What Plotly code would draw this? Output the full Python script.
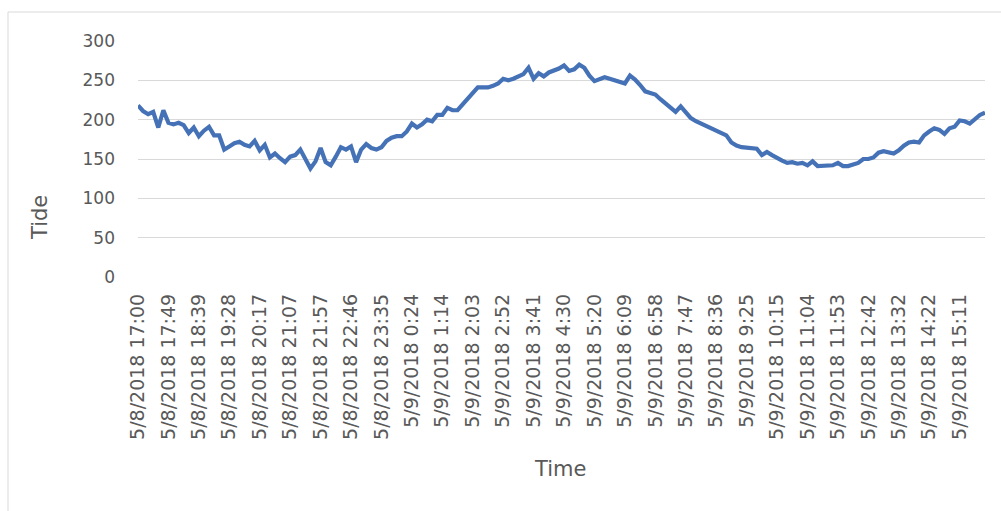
import plotly.graph_objects as go

# Category labels shown along the time axis (one every 6 readings)
tick_labels = [
    "5/8/2018 17:00", "5/8/2018 17:49", "5/8/2018 18:39", "5/8/2018 19:28",
    "5/8/2018 20:17", "5/8/2018 21:07", "5/8/2018 21:57", "5/8/2018 22:46",
    "5/8/2018 23:35", "5/9/2018 0:24", "5/9/2018 1:14", "5/9/2018 2:03",
    "5/9/2018 2:52", "5/9/2018 3:41", "5/9/2018 4:30", "5/9/2018 5:20",
    "5/9/2018 6:09", "5/9/2018 6:58", "5/9/2018 7:47", "5/9/2018 8:36",
    "5/9/2018 9:25", "5/9/2018 10:15", "5/9/2018 11:04", "5/9/2018 11:53",
    "5/9/2018 12:42", "5/9/2018 13:32", "5/9/2018 14:22", "5/9/2018 15:11",
]
readings_per_label = 6

# Tide readings
tide = [
    218, 211, 207, 210, 190, 212, 196, 194, 196, 193,
    183, 190, 179, 186, 191, 180, 180, 162, 166, 170,
    172, 168, 166, 173, 161, 168, 152, 157, 151, 146,
    153, 155, 162, 151, 138, 147, 164, 146, 142, 153,
    165, 162, 166, 146, 162, 169, 164, 162, 165, 173,
    177, 179, 179, 185, 195, 190, 194, 200, 198, 206,
    206, 215, 212, 212, 219, 227, 234, 241, 241, 241,
    243, 246, 252, 250, 252, 255, 258, 266, 252, 259,
    255, 260, 262, 265, 269, 262, 264, 270, 266, 256,
    249, 251, 254, 252, 250, 248, 246, 256, 251, 244,
    236, 234, 232, 226, 221, 216, 210, 217, 209, 202,
    198, 195, 191, 188, 185, 182, 180, 171, 167, 165,
    164, 163, 163, 155, 159, 155, 151, 148, 145, 146,
    144, 145, 142, 147, 141, 141, 141, 142, 145, 141,
    141, 143, 145, 150, 150, 152, 158, 160, 159, 157,
    161, 167, 171, 172, 171, 180, 185, 189, 187, 182,
    189, 191, 199, 198, 195, 201, 206, 209,
]

x_index = list(range(len(tide)))
tick_positions = [k * readings_per_label for k in range(len(tick_labels))]

FONT = "DejaVu Sans"
TEXT_GREY = "#595959"
GRID_GREY = "#d9d9d9"

fig = go.Figure()
fig.add_trace(go.Scatter(
    x=x_index,
    y=tide,
    mode="lines",
    line=dict(color="#4572b6", width=4.2),
    hoverinfo="y",
    showlegend=False,
))

# plot area: x 138..985, y 41..277 (px)
L, R, T, B = 138, 16, 41, 234
W, H = 1001, 511
pw, ph = W - L - R, H - T - B


def px_to_paper(px, py):
    return (px - L) / pw, (H - B - py) / ph


fig.update_layout(
    width=W,
    height=H,
    margin=dict(l=L, r=R, t=T, b=B),
    paper_bgcolor="white",
    plot_bgcolor="white",
    font=dict(family=FONT, color=TEXT_GREY),
    xaxis=dict(
        range=[0, len(tide) - 1],
        tickmode="array",
        tickvals=tick_positions,
        ticktext=tick_labels,
        tickangle=-90,
        tickfont=dict(family=FONT, size=19, color=TEXT_GREY),
        showgrid=False,
        zeroline=False,
        showline=False,
        ticks="",
        ticklabelstandoff=12,
    ),
    yaxis=dict(
        range=[0, 300],
        tick0=0,
        dtick=50,
        tickfont=dict(family=FONT, size=17, color=TEXT_GREY),
        showgrid=True,
        gridcolor=GRID_GREY,
        gridwidth=1,
        zeroline=False,
        showline=False,
        ticks="",
        ticklabelstandoff=22,
    ),
)

tx, ty = px_to_paper(40, 218)
fig.add_annotation(
    text="Tide", xref="paper", yref="paper", x=tx, y=ty,
    xanchor="center", yanchor="middle", textangle=-90, showarrow=False,
    font=dict(family=FONT, size=21, color=TEXT_GREY),
)
tx, ty = px_to_paper(560, 469)
fig.add_annotation(
    text="Time", xref="paper", yref="paper", x=tx, y=ty,
    xanchor="center", yanchor="middle", showarrow=False,
    font=dict(family=FONT, size=21, color=TEXT_GREY),
)

# chart frame
x0, y0 = px_to_paper(8, 12)
x1, y1 = px_to_paper(1010, 520)
fig.add_shape(
    type="rect", xref="paper", yref="paper", x0=x0, y0=y1, x1=x1, y1=y0,
    line=dict(color=GRID_GREY, width=1), layer="below",
)

fig.write_html("out.html")
